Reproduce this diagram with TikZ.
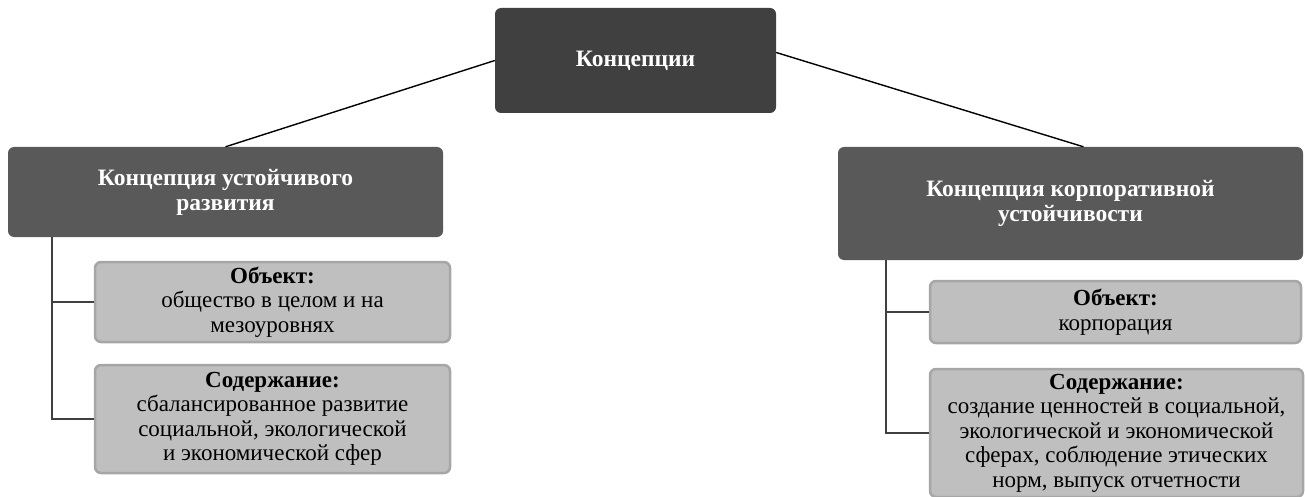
\documentclass[tikz,border=0pt]{standalone}
\usepackage{fontspec}
\setmainfont{Liberation Serif}
\definecolor{topfill}{HTML}{404040}
\definecolor{darkfill}{HTML}{595959}
\definecolor{lightfill}{HTML}{BFBFBF}
\definecolor{lightedge}{HTML}{A6A6A6}
\definecolor{treeline}{HTML}{404040}
\tikzset{
  headbox/.style={rounded corners=6pt, fill=darkfill, text=white, align=center,
    font=\fontsize{23.5pt}{25pt}\selectfont\bfseries, inner sep=0pt},
  infobox/.style={rounded corners=6pt, fill=lightfill, draw=lightedge, line width=2.5pt,
    text=black, align=center, font=\fontsize{23pt}{24.5pt}\selectfont, inner sep=0pt},
  link/.style={draw=black, line width=1.4pt},
  tree/.style={draw=treeline, line width=2pt}
}
\begin{document}
\begin{tikzpicture}[x=1pt,y=1pt]
\useasboundingbox (0,0) rectangle (1305,-497);
\node[headbox, fill=topfill, minimum width=281pt, minimum height=105pt] (top) at (635.5,-60.5) {Концепции};
\node[headbox, minimum width=435pt, minimum height=90pt] (L) at (225.5,-192) {Концепция устойчивого\\развития};
\node[headbox, minimum width=465pt, minimum height=113pt] (R) at (1070.5,-203.5) {Концепция корпоративной\\устойчивости};
\node[infobox, minimum width=355pt, minimum height=80pt] (LO) at (272.5,-302) {\textbf{Объект:}\\общество в целом и на\\мезоуровнях};
\node[infobox, minimum width=355pt, minimum height=108pt] (LC) at (272.5,-419) {\textbf{Содержание:}\\сбалансированное развитие\\социальной, экологической\\и экономической сфер};
\node[infobox, minimum width=371pt, minimum height=62pt] (RO) at (1115.5,-312) {\textbf{Объект:}\\корпорация};
\node[infobox, minimum width=373pt, minimum height=128pt] (RC) at (1116.5,-433) {\textbf{Содержание:}\\создание ценностей в социальной,\\экологической и экономической\\сферах, соблюдение этических\\норм, выпуск отчетности};
\draw[link] (top.west) -- (L.north);
\draw[link] ([yshift=8pt]top.east) -- ([xshift=13pt]R.north);
\coordinate (lt) at (52,-237);
\draw[tree] (lt) |- (LC.west);
\draw[tree] (lt |- LO.west) -- (LO.west);
\coordinate (rt) at (886,-260);
\draw[tree] (rt) |- (RC.west);
\draw[tree] (rt |- RO.west) -- (RO.west);
\end{tikzpicture}
\end{document}
